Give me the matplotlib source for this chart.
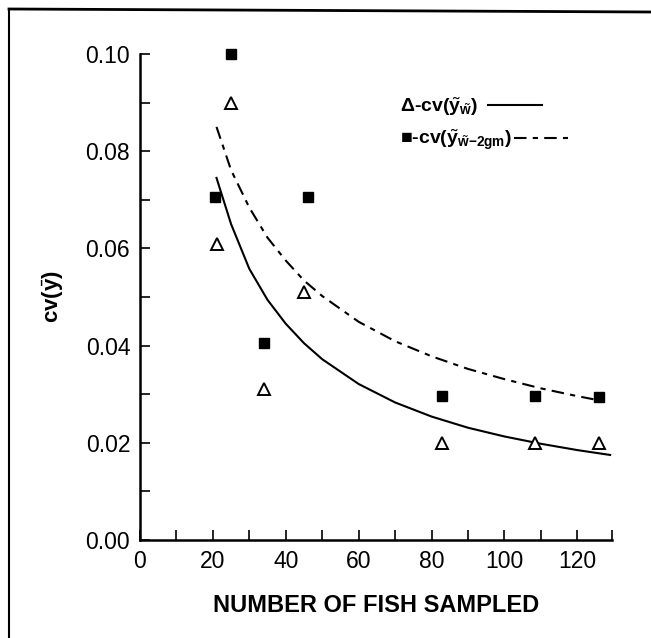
import numpy as np
import matplotlib
matplotlib.use('Agg')
import matplotlib.pyplot as plt
from matplotlib.lines import Line2D

plt.rcParams['font.family'] = ['Liberation Sans', 'DejaVu Sans']
plt.rcParams['mathtext.fontset'] = 'custom'
plt.rcParams['mathtext.rm'] = 'Liberation Sans'
plt.rcParams['mathtext.bf'] = 'Liberation Sans:bold'
plt.rcParams['mathtext.it'] = 'Liberation Sans:italic'
plt.rcParams['mathtext.fallback'] = 'cm'

# observed points
fish_n      = [21, 25, 34, 45, 83, 108.5, 126]
cv_w        = [0.061, 0.090, 0.031, 0.051, 0.020, 0.020, 0.020]
fish_n_sq   = [20.5, 25, 34, 46, 83, 108.5, 126]
cv_w2gm     = [0.0705, 0.100, 0.0405, 0.0705, 0.0297, 0.0297, 0.0295]

# fitted curves
curve_n      = [21, 25, 30, 35, 40, 45, 50, 60, 70, 80, 90, 100, 110, 120, 129]
curve_w      = [0.0745, 0.0650, 0.0558, 0.0494, 0.0445, 0.0405, 0.0372, 0.0321,
                0.0283, 0.0254, 0.0231, 0.0213, 0.0198, 0.0185, 0.0175]
curve_w2gm   = [0.0850, 0.0761, 0.0684, 0.0622, 0.0575, 0.0534, 0.0502, 0.0449,
                0.0409, 0.0378, 0.0352, 0.0331, 0.0312, 0.0296, 0.0283]

fig = plt.figure(figsize=(6.51, 6.38), dpi=100)
ax = fig.add_axes([0.215, 0.1536, 0.725, 0.7618])

l1, = ax.plot(curve_n, curve_w, color='black', lw=1.5)
l2, = ax.plot(curve_n, curve_w2gm, color='black', lw=1.5, linestyle=(0, (6, 3, 2.5, 3)))
ax.plot(fish_n, cv_w, linestyle='none', marker='^', markersize=9,
        markerfacecolor='white', markeredgecolor='black', markeredgewidth=1.4,
        clip_on=False)
ax.plot(fish_n_sq, cv_w2gm, linestyle='none', marker='s', markersize=7,
        color='black', clip_on=False)

ax.set_xlim(0, 129.5)
ax.set_ylim(0, 0.10)
ax.set_xticks(np.arange(0, 121, 20))
ax.set_xticks(list(np.arange(0, 130, 10)) + [129.5], minor=True)
ax.set_yticks(np.arange(0, 0.101, 0.02))
ax.set_yticks(np.arange(0, 0.101, 0.01), minor=True)
ax.set_yticklabels(['0.00', '0.02', '0.04', '0.06', '0.08', '0.10'])
ax.tick_params(which='both', direction='in', length=7, width=1.2, labelsize=16.5)
ax.tick_params(axis='y', pad=7)
ax.tick_params(axis='x', pad=7)
for s in ['top', 'right']:
    ax.spines[s].set_visible(False)
for s in ['left', 'bottom']:
    ax.spines[s].set_linewidth(1.8)

ax.set_xlabel('NUMBER OF FISH SAMPLED', fontsize=17, fontweight='bold', labelpad=15)
ax.set_ylabel(r'cv($\bar{\mathbf{y}}$)', fontsize=16, fontweight='bold', labelpad=14)

# two one-row legends so each line sample sits right after its own text
lab1 = r'Δ-cv($\tilde{\mathbf{y}}_{\tilde{\mathbf{w}}}$)'
lab2 = r'■-cv($\tilde{\mathbf{y}}_{\tilde{\mathbf{w}}\mathbf{-2gm}}$)'
leg_kw = dict(loc='center left', frameon=False, markerfirst=False, handlelength=2.8,
              borderaxespad=0, borderpad=0, prop={'size': 14, 'weight': 'bold'})
leg1 = ax.legend([l1], [lab1], bbox_to_anchor=(0.55, (540 - 107) / 486),
                 handletextpad=0.5, **leg_kw)
ax.add_artist(leg1)
ax.legend([l2], [lab2], bbox_to_anchor=(0.55, (540 - 140) / 486),
          handletextpad=0.1, **leg_kw)

# scanned page frame
fig.add_artist(Line2D([9 / 651, 9 / 651], [0, 1 - 10 / 638], color='black', lw=1.5))
fig.add_artist(Line2D([9 / 651, 1], [1 - 9 / 638, 1 - 12 / 638], color='black', lw=2.0))

fig.savefig('out.png', dpi=100)
